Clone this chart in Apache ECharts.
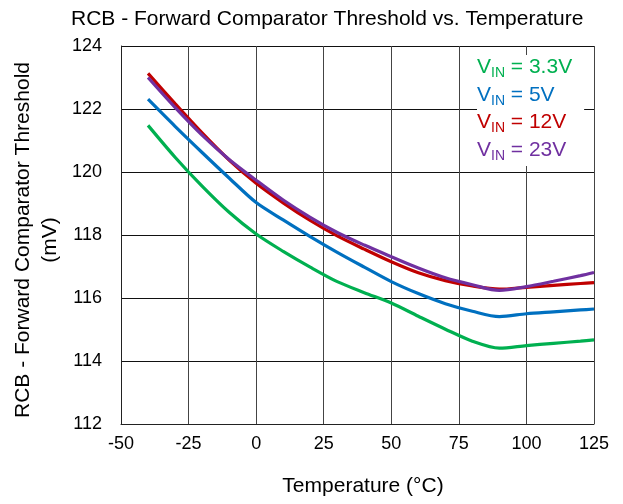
<!DOCTYPE html>
<html>
<head>
<meta charset="utf-8">
<script src="https://cdn.jsdelivr.net/npm/echarts@6/dist/echarts.min.js"></script>
<style>html,body{margin:0;padding:0;background:#fff}#c{width:623px;height:504px}</style>
</head>
<body>
<div id="c"></div>
<script>
var temps = [-40, -30, -20, -10, 0, 10, 20, 30, 40, 50, 60, 70, 80, 90, 100, 110, 120, 125];
var vin33 = [121.48, 120.47, 119.55, 118.72, 118.03, 117.48, 116.98, 116.52, 116.17, 115.84, 115.42, 115.01, 114.63, 114.41, 114.49, 114.56, 114.63, 114.67];
var vin5  = [122.31, 121.45, 120.62, 119.81, 119.03, 118.48, 117.95, 117.45, 116.98, 116.52, 116.14, 115.82, 115.58, 115.41, 115.50, 115.56, 115.62, 115.65];
var vin12 = [123.13, 122.17, 121.24, 120.38, 119.64, 119.02, 118.46, 117.97, 117.55, 117.15, 116.80, 116.55, 116.38, 116.28, 116.34, 116.40, 116.46, 116.49];
var vin23 = [123.00, 122.05, 121.17, 120.40, 119.74, 119.11, 118.56, 118.08, 117.68, 117.31, 116.95, 116.64, 116.42, 116.24, 116.36, 116.53, 116.71, 116.81];
var seriesNames = ['VIN = 3.3V', 'VIN = 5V', 'VIN = 12V', 'VIN = 23V'];
var legendValues = ['3.3V', '5V', '12V', '23V'];
var colors = ['#00b050', '#0070c0', '#c00000', '#7030a0'];
var xTicks = {min: -50, max: 125, interval: 25};
var yTicks = {min: 112, max: 124, interval: 2};
var titleText = 'RCB - Forward Comparator Threshold vs. Temperature';
var yName = 'RCB - Forward Comparator Threshold\n(mV)';
var xName = 'Temperature (°C)';

function pairs(vals) { return temps.map(function (t, i) { return [t, vals[i]]; }); }
var allVals = [vin33, vin5, vin12, vin23];
var FONT = '"Liberation Sans", Arial, sans-serif';

var chart = echarts.init(document.getElementById('c'), null, {renderer: 'canvas'});
chart.setOption({
  animation: false,
  backgroundColor: '#fff',
  title: {
    text: titleText, left: 66, top: 4,
    textStyle: {fontFamily: FONT, fontSize: 21, fontWeight: 'normal', color: '#000'}
  },
  grid: {left: 121, right: 29, top: 46, bottom: 80, containLabel: false},
  legend: {
    orient: 'vertical', left: 477, top: 55,
    icon: 'none', itemWidth: 0, itemHeight: 10, itemGap: 4,
    backgroundColor: '#fff', padding: [2, 12, 3, 0],
    selectedMode: false,
    data: seriesNames.map(function (n, i) {
      return {name: n, textStyle: {color: colors[i]}};
    }),
    formatter: function (name) {
      var i = seriesNames.indexOf(name);
      return '{v|V}{s|IN}{v| = ' + legendValues[i] + '}';
    },
    textStyle: {
      fontFamily: FONT, fontSize: 21, padding: [0, 0, 0, -5],
      rich: {
        v: {fontFamily: FONT, fontSize: 21, lineHeight: 26},
        s: {fontFamily: FONT, fontSize: 14, lineHeight: 14, verticalAlign: 'bottom'}
      }
    }
  },
  xAxis: {
    type: 'value', min: xTicks.min, max: xTicks.max, interval: xTicks.interval,
    name: xName, nameLocation: 'middle', nameGap: 52,
    nameTextStyle: {fontFamily: FONT, fontSize: 21, color: '#000', padding: [0, 0, 0, 11]},
    axisLine: {show: true, onZero: false, lineStyle: {color: '#222', width: 1}},
    axisTick: {show: false},
    axisLabel: {fontFamily: FONT, fontSize: 18, color: '#000', margin: 11},
    splitLine: {show: true, lineStyle: {color: '#444', width: 1}}
  },
  yAxis: {
    type: 'value', min: yTicks.min, max: yTicks.max, interval: yTicks.interval,
    axisLine: {show: true, onZero: false, lineStyle: {color: '#222', width: 1}},
    axisTick: {show: false},
    axisLabel: {fontFamily: FONT, fontSize: 18, color: '#000', margin: 19},
    splitLine: {show: true, lineStyle: {color: '#111', width: 1}}
  },
  graphic: [{
    type: 'text', x: 36.5, y: 240, rotation: Math.PI / 2,
    style: {
      text: yName, fontFamily: FONT, fontSize: 21, fill: '#000',
      align: 'center', verticalAlign: 'middle', lineHeight: 27
    }
  }],
  series: allVals.map(function (vals, i) {
    return {
      name: seriesNames[i], type: 'line', data: pairs(vals),
      smooth: 0.3, showSymbol: false, symbol: 'none',
      lineStyle: {color: colors[i], width: 3.2},
      itemStyle: {color: colors[i]}, z: 2 + i
    };
  })
});
</script>
</body>
</html>
